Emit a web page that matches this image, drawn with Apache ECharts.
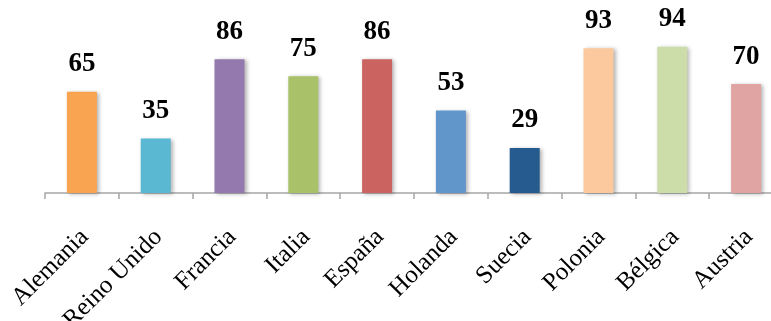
<!DOCTYPE html>
<html>
<head>
<meta charset="utf-8">
<script src="https://cdn.jsdelivr.net/npm/echarts@6/dist/echarts.min.js"></script>
<style>html,body{margin:0;padding:0;background:#fff}#c{width:771px;height:321px}</style>
</head>
<body>
<div id="c"></div>
<script>
const categories = ['Alemania','Reino Unido','Francia','Italia','España','Holanda','Suecia','Polonia','Bélgica','Austria'];
const values = [65, 35, 86, 75, 86, 53, 29, 93, 94, 70];
const barColors = ['#F9A451','#5AB8D2','#9479AE','#A9C26A','#CB6460','#6196CB','#255B8F','#FBC99D','#CCDDAA','#E0A4A2'];

const chart = echarts.init(document.getElementById('c'), null, {renderer:'canvas'});
chart.setOption({
  animation: false,
  backgroundColor: '#fff',
  grid: {left: 45, top: 37.4, width: 738, height: 155.6, containLabel: false, outerBoundsMode: 'none'},
  xAxis: {
    type: 'category',
    data: categories,
    axisLine: {lineStyle: {color: '#A6A6A6', width: 1.5}},
    axisTick: {show: true, alignWithLabel: false, length: 6, lineStyle: {color: '#A6A6A6', width: 1.5}},
    axisLabel: {
      interval: 0, rotate: 45, margin: 43,
      fontFamily: 'Liberation Serif', fontSize: 25, color: '#000',
      padding: [0, -4, 0, 0]
    }
  },
  yAxis: {type: 'value', min: 0, max: 100, show: false, splitLine: {show: false}},
  series: [{
    type: 'bar',
    barWidth: 30,
    data: values.map((v, i) => ({value: v, itemStyle: {color: barColors[i]}})),
    itemStyle: {shadowColor: 'rgba(0,0,0,0.3)', shadowBlur: 4, shadowOffsetX: 2, shadowOffsetY: 1},
    label: {
      show: true, position: 'top', distance: 14,
      fontFamily: 'Liberation Serif', fontWeight: 'bold', fontSize: 27, color: '#000'
    }
  }]
});
</script>
</body>
</html>
